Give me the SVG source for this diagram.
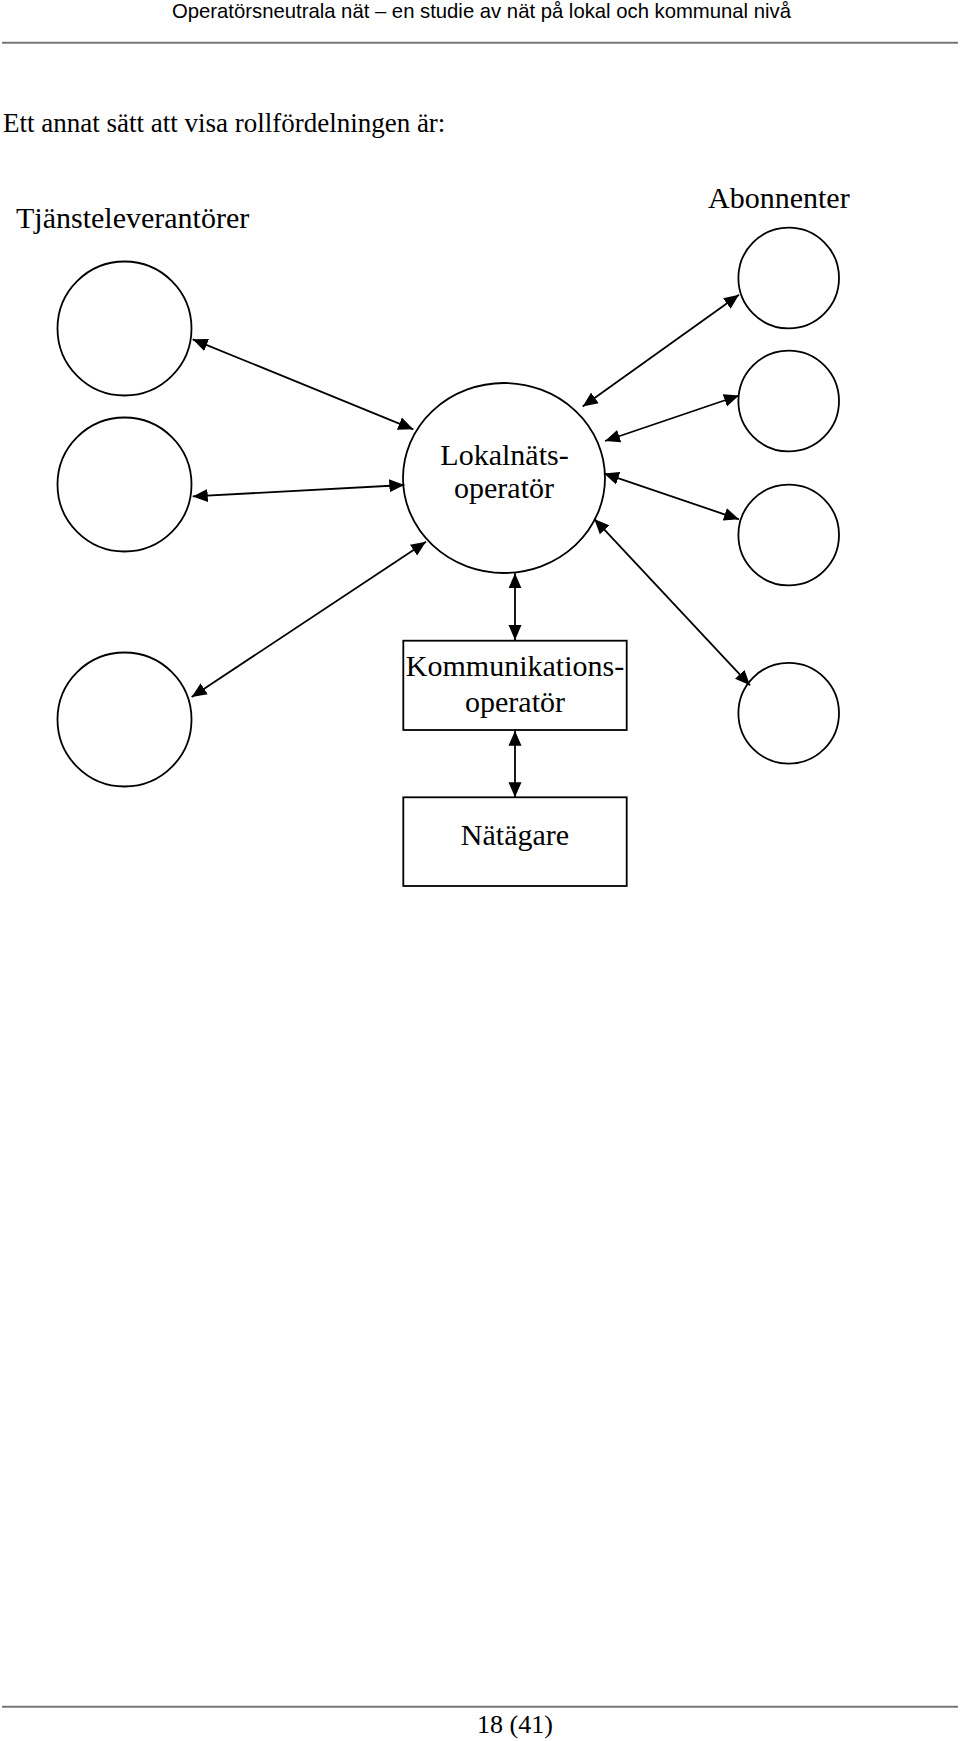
<svg xmlns="http://www.w3.org/2000/svg" width="960" height="1741" viewBox="0 0 960 1741">
<defs>
<marker id="ah" markerUnits="userSpaceOnUse" markerWidth="16" markerHeight="14" refX="15" refY="6.5" orient="auto-start-reverse" viewBox="0 0 16 13">
<path d="M0,0 L15,6.5 L0,13 z" fill="#000"/>
</marker>
<style>
.node{fill:#fff;stroke:#000;stroke-width:1.8}
.ser{font-family:"Liberation Serif","Times New Roman",serif;fill:#000}
.lbl{font-size:30px;text-anchor:middle}
.con line{stroke:#000;stroke-width:1.8;marker-start:url(#ah);marker-end:url(#ah)}
.rule{stroke:#777;stroke-width:2}
</style>
</defs>
<rect width="960" height="1741" fill="#fff"/>
<text x="172" y="18" font-family="'Liberation Sans',Arial,sans-serif" font-size="20.3" fill="#000">Operatörsneutrala nät – en studie av nät på lokal och kommunal nivå</text>
<line class="rule" x1="2" y1="42.7" x2="958" y2="42.7"/>
<text class="ser" x="3" y="132" font-size="27">Ett annat sätt att visa rollfördelningen är:</text>
<text class="ser" x="16" y="228" font-size="30">Tjänsteleverantörer</text>
<text class="ser" x="708" y="208" font-size="30">Abonnenter</text>

<g id="tl1"><circle class="node" cx="124.5" cy="328.5" r="67"/></g>
<g id="tl2"><circle class="node" cx="124.5" cy="484.5" r="67"/></g>
<g id="tl3"><circle class="node" cx="124.5" cy="719.5" r="67"/></g>

<g id="ab1"><ellipse class="node" cx="788.7" cy="278" rx="50.3" ry="50.4"/></g>
<g id="ab2"><ellipse class="node" cx="788.7" cy="401" rx="50.3" ry="50.4"/></g>
<g id="ab3"><ellipse class="node" cx="788.7" cy="535" rx="50.3" ry="50.4"/></g>
<g id="ab4"><ellipse class="node" cx="788.7" cy="713.2" rx="50.3" ry="50.4"/></g>

<g id="lokal">
<ellipse class="node" cx="504" cy="478" rx="101" ry="95"/>
<text class="ser lbl" x="504.5" y="465">Lokalnäts-</text>
<text class="ser lbl" x="504" y="498">operatör</text>
</g>

<g id="komm">
<rect class="node" x="403.3" y="640.7" width="223.4" height="89.3"/>
<text class="ser lbl" x="515" y="676">Kommunikations-</text>
<text class="ser lbl" x="515" y="711.7">operatör</text>
</g>

<g id="natagare">
<rect class="node" x="403.3" y="797.3" width="223.4" height="88.7"/>
<text class="ser lbl" x="515" y="845">Nätägare</text>
</g>

<g id="connectors" class="con">
<line x1="192.7" y1="339.3" x2="413.3" y2="429.3"/>
<line x1="192.7" y1="496.4" x2="404.3" y2="485"/>
<line x1="191.7" y1="697" x2="426" y2="541.8"/>
<line x1="582.7" y1="406.6" x2="739" y2="294.7"/>
<line x1="605" y1="441" x2="739" y2="395.5"/>
<line x1="604" y1="473.4" x2="739" y2="519.3"/>
<line x1="594.3" y1="518.9" x2="750" y2="685.3"/>
<line x1="515" y1="573.3" x2="515" y2="640"/>
<line x1="515" y1="730.7" x2="515" y2="797.3"/>
</g>

<line class="rule" x1="2" y1="1706.7" x2="958" y2="1706.7"/>
<text class="ser" x="477" y="1733" font-size="26">18 (41)</text>
</svg>
